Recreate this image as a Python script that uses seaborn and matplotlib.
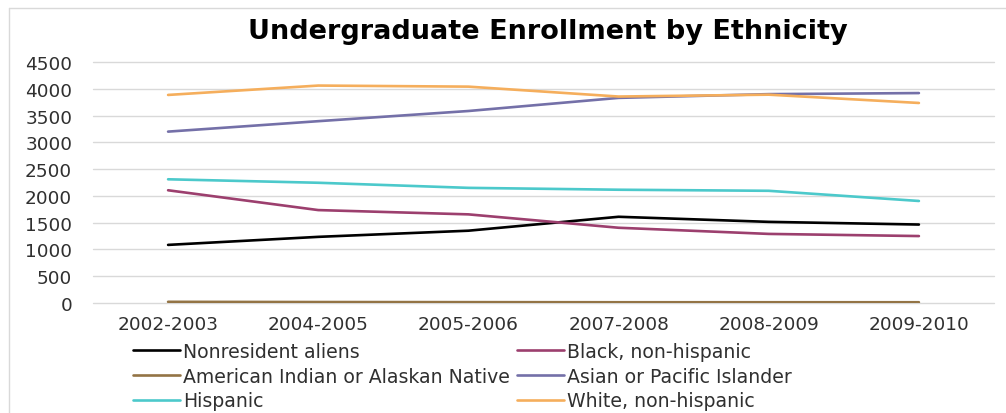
import matplotlib
matplotlib.use("Agg")
import matplotlib.pyplot as plt
from matplotlib.lines import Line2D
import seaborn as sns
import pandas as pd

# Academic years on the x axis
years = ["2002-2003", "2004-2005", "2005-2006", "2007-2008", "2008-2009", "2009-2010"]

# Undergraduate enrollment per group
nonresident = [1085, 1235, 1350, 1610, 1515, 1465]
black = [2105, 1735, 1655, 1405, 1290, 1250]
american_indian = [22, 18, 16, 14, 14, 14]
asian = [3200, 3395, 3585, 3830, 3900, 3920]
hispanic = [2310, 2245, 2150, 2115, 2095, 1905]
white = [3885, 4060, 4040, 3855, 3890, 3735]

groups = [
    "Nonresident aliens",
    "Black, non-hispanic",
    "American Indian or Alaskan Native",
    "Asian or Pacific Islander",
    "Hispanic",
    "White, non-hispanic",
]
series = [nonresident, black, american_indian, asian, hispanic, white]
colors = ["#000000", "#9C3F6E", "#937445", "#7470A8", "#4CC9CB", "#F5AE5C"]

rows = []
for g, vals in zip(groups, series):
    for y, v in zip(years, vals):
        rows.append({"Year": y, "Enrollment": v, "Group": g})
df = pd.DataFrame(rows)

sns.set_style("white")
plt.rcParams["font.family"] = ["DejaVu Sans"]

fig = plt.figure(figsize=(10.06, 4.14), dpi=100)
ax = fig.add_axes([93 / 1006, 1 - 304 / 414, 901 / 1006, 241 / 414])

sns.lineplot(
    data=df, x="Year", y="Enrollment", hue="Group",
    hue_order=groups, palette=colors, linewidth=1.9,
    sort=False, legend=False, ax=ax,
)

ax.set_xlim(-0.5, len(years) - 0.5)
ax.set_ylim(0, 4500)
ax.set_yticks(range(0, 4501, 500))
ax.yaxis.grid(True, color="#D9D9D9", linewidth=1.0)
for gl in ax.get_ygridlines():
    gl.set_clip_on(False)
ax.set_axisbelow(True)
for s in ax.spines.values():
    s.set_visible(False)
ax.set_xlabel("")
ax.set_ylabel("")
ax.tick_params(axis="both", length=0, labelsize=13.3, colors="#303030")
ax.tick_params(axis="x", pad=9)
ax.tick_params(axis="y", pad=15)

fig.text(548 / 1006, 1 - 32 / 414, "Undergraduate Enrollment by Ethnicity",
         ha="center", va="center", fontsize=19.5, fontweight="bold", color="#000000")

# Legend: two columns, filled column-wise
order = [0, 2, 4, 1, 3, 5]
handles = [Line2D([], [], color=colors[i], linewidth=1.9) for i in order]
labels = [groups[i] for i in order]
fig.legend(
    handles, labels, ncol=2, loc="upper left",
    bbox_to_anchor=(133 / 1006, 1 - 343 / 414),
    frameon=False, fontsize=13.6, handlelength=2.5, handletextpad=0.15,
    columnspacing=0.35, labelspacing=0.3, borderaxespad=0, borderpad=0,
    labelcolor="#303030",
)

# Chart border (top and left edges visible)
fig.add_artist(Line2D([9 / 1006, 1.0], [1 - 9 / 414, 1 - 9 / 414],
                      transform=fig.transFigure, color="#D9D9D9", linewidth=1.0))
fig.add_artist(Line2D([9 / 1006, 9 / 1006], [0.0, 1 - 9 / 414],
                      transform=fig.transFigure, color="#D9D9D9", linewidth=1.0))

fig.savefig("out.png", dpi=100)
